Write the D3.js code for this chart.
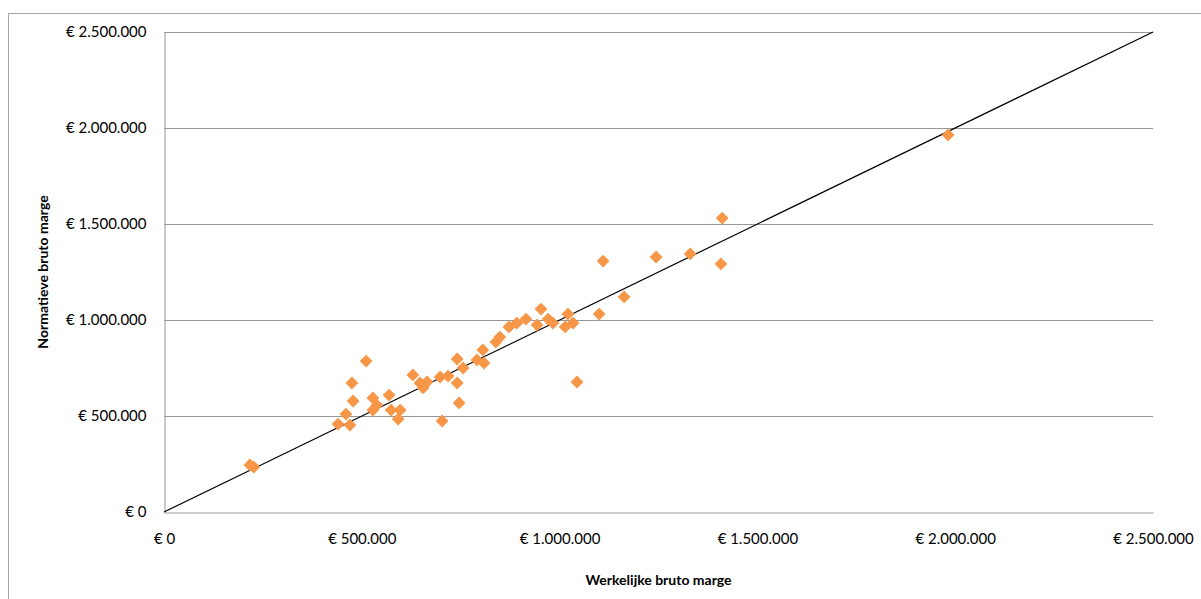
<!DOCTYPE html>
<html>
<head>
<meta charset="utf-8">
<script src="https://cdn.jsdelivr.net/npm/d3@7"></script>
<style>
  html, body { margin: 0; padding: 0; background: #fff; }
  svg { display: block; }
  text { font-family: Lato, "Liberation Sans", sans-serif; fill: #000; }
</style>
</head>
<body>
<script>
// Werkelijke bruto marge (x) and Normatieve bruto marge (y), in euro
const werkelijk = [217000, 227000, 440000, 460000, 470000, 475000, 478000, 511000, 528000, 538000,
  528000, 569000, 574000, 597000, 592000, 629000, 647000, 665000, 655000, 698000,
  718000, 741000, 756000, 741000, 746000, 703000, 791000, 806000, 809000, 839000,
  849000, 872000, 892000, 915000, 943000, 953000, 971000, 983000, 1014000, 1021000,
  1034000, 1044000, 1100000, 1110000, 1163000, 1244000, 1330000, 1408000, 1411000, 1982000];
const normatief = [245000, 234000, 458000, 510000, 453000, 672000, 578000, 786000, 594000, 557000,
  531000, 609000, 531000, 531000, 484000, 714000, 672000, 677000, 646000, 703000,
  708000, 797000, 750000, 672000, 568000, 474000, 792000, 844000, 776000, 885000,
  911000, 964000, 984000, 1005000, 974000, 1057000, 1005000, 984000, 964000, 1031000,
  984000, 677000, 1031000, 1307000, 1120000, 1328000, 1344000, 1292000, 1531000, 1964000];
const tickValues = [0, 500000, 1000000, 1500000, 2000000, 2500000];
const tickLabels = ["€ 0", "€ 500.000", "€ 1.000.000", "€ 1.500.000", "€ 2.000.000", "€ 2.500.000"];
const xTitle = "Werkelijke bruto marge";
const yTitle = "Normatieve bruto marge";
const diagonal = [0, 2500000];

(function () {
const W = 1201, H = 599;
const pLeft = 164, pRight = 1153, pTop = 32, pBottom = 512;

const svg = d3.select("body").append("svg").attr("width", W).attr("height", H);

// outer chart border
svg.append("rect").attr("x", 8.5).attr("y", 13.5).attr("width", 1300).attr("height", 700)
  .attr("fill", "none").attr("stroke", "#a6a6a6").attr("stroke-width", 1);

const x = d3.scaleLinear().domain([0, 2500000]).range([pLeft, pRight]);
const y = d3.scaleLinear().domain([0, 2500000]).range([pBottom, pTop]);

// gridlines
svg.append("g").selectAll("line").data(tickValues.filter(v => v > 0)).join("line")
  .attr("x1", pLeft).attr("x2", pRight)
  .attr("y1", d => Math.round(y(d)) + 0.5).attr("y2", d => Math.round(y(d)) + 0.5)
  .attr("stroke", "#969696").attr("stroke-width", 1);

// axes
const fmt = d => tickLabels[tickValues.indexOf(d)];
const yAxis = d3.axisLeft(y).tickValues(tickValues).tickFormat(fmt).tickSize(0).tickPadding(18);
const gy = svg.append("g").attr("transform", `translate(${pLeft + 0.5},0)`).call(yAxis);
gy.select(".domain").attr("stroke", "#969696");
gy.selectAll("text").style("font-size", "15px").style("font-family", "Lato, 'Liberation Sans', sans-serif");

const xAxis = d3.axisBottom(x).tickValues(tickValues).tickFormat(fmt).tickSize(0).tickPadding(21);
const gx = svg.append("g").attr("transform", `translate(0,${pBottom + 0.5})`).call(xAxis);
gx.select(".domain").attr("stroke", "#969696");
gx.selectAll("text").style("font-size", "15px").style("font-family", "Lato, 'Liberation Sans', sans-serif");

// diagonal line
svg.append("line")
  .attr("x1", x(diagonal[0])).attr("y1", y(diagonal[0]))
  .attr("x2", x(diagonal[1])).attr("y2", y(diagonal[1]))
  .attr("stroke", "#000").attr("stroke-width", 1.2);

// points
const sym = d3.symbol().type(d3.symbolSquare).size(82);
svg.append("g").selectAll("path").data(werkelijk.map((v, i) => [v, normatief[i]])).join("path")
  .attr("d", sym)
  .attr("transform", d => `translate(${x(d[0])},${y(d[1])}) rotate(45)`)
  .attr("fill", "#F79646");

// axis titles
svg.append("text").attr("x", (pLeft + pRight) / 2).attr("y", 585)
  .attr("text-anchor", "middle").style("font-size", "14px").style("font-weight", "bold")
  .text(xTitle);
svg.append("text").attr("transform", `translate(48,${(pTop + pBottom) / 2}) rotate(-90)`)
  .attr("text-anchor", "middle").style("font-size", "14px").style("font-weight", "bold")
  .text(yTitle);
})();
</script>
</body>
</html>
